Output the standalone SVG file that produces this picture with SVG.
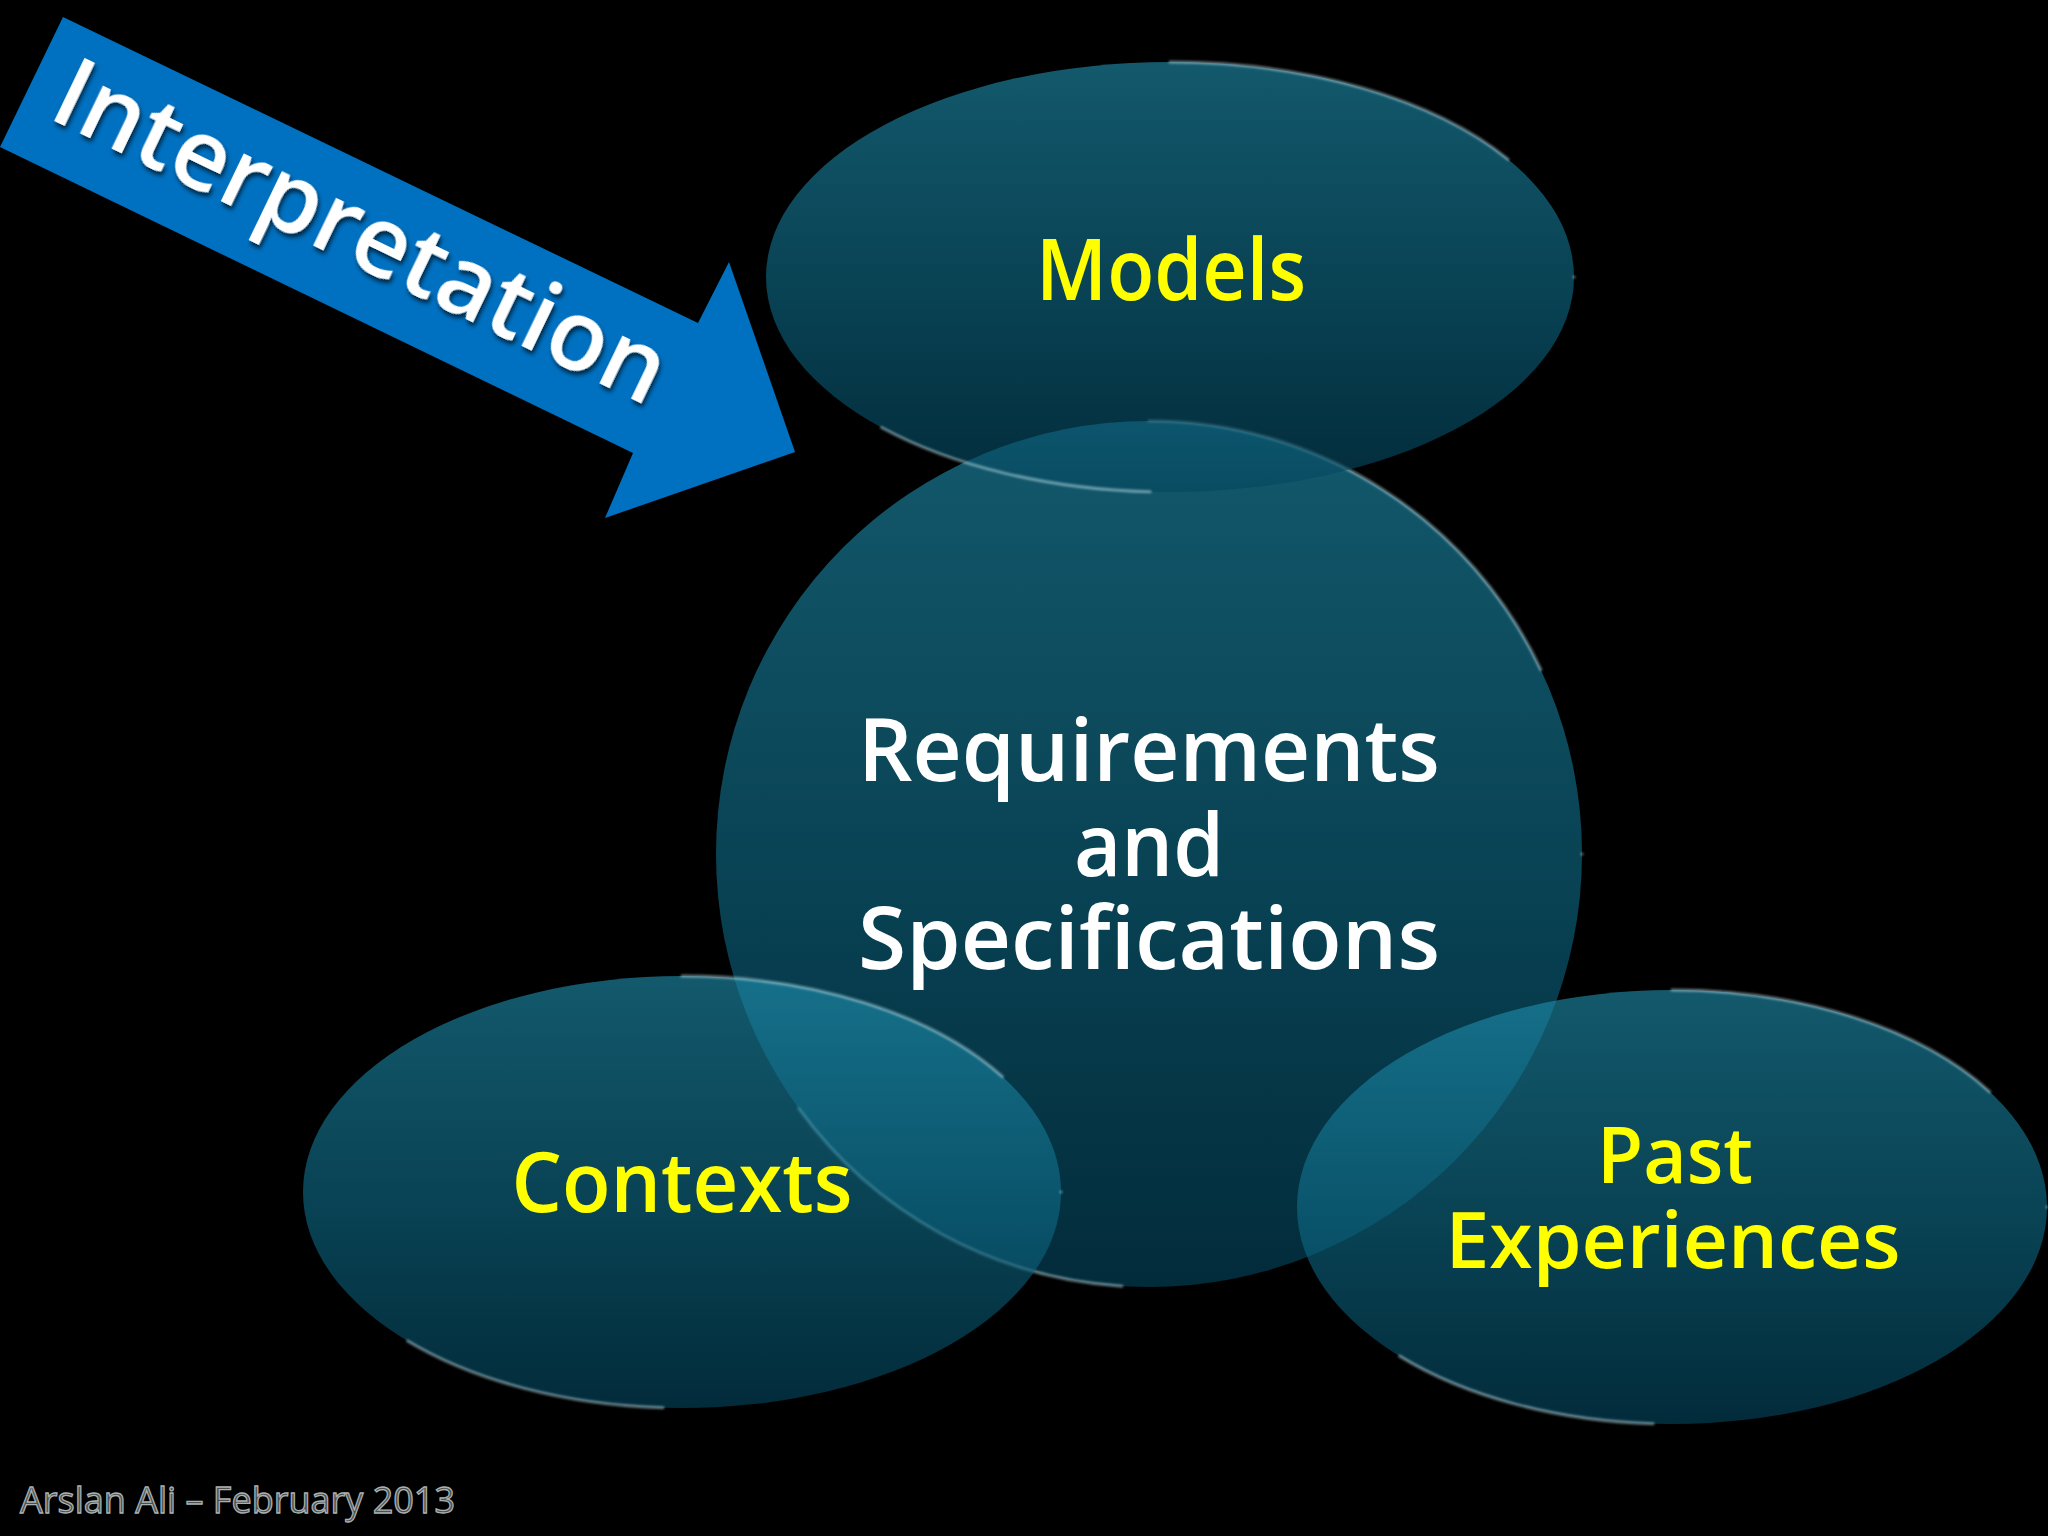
<svg xmlns="http://www.w3.org/2000/svg" width="2048" height="1536" viewBox="0 0 2048 1536">
  <defs>
    <linearGradient id="glass" x1="0" y1="0" x2="0" y2="1">
      <stop offset="0" stop-color="#1f8fae"/>
      <stop offset="0.55" stop-color="#0d6a86"/>
      <stop offset="1" stop-color="#04465e"/>
    </linearGradient>
    <filter id="shadow" x="-10%" y="-10%" width="130%" height="130%">
      <feDropShadow dx="3" dy="3" stdDeviation="2" flood-color="#000" flood-opacity="0.65"/>
    </filter>
    <filter id="soft" x="-5%" y="-5%" width="110%" height="110%">
      <feGaussianBlur stdDeviation="1"/>
    </filter>
  </defs>
  <style>
    .shape { fill: url(#glass); fill-opacity: 0.62; }
    .rim { fill: none; stroke: #c4e6ef; stroke-opacity: 0.5; stroke-width: 3; stroke-linecap: round; stroke-dasharray: 0 26 14 35 18 7; filter: url(#soft); }
    .lbl { font-family: "Open Sans", "Noto Sans", "Liberation Sans", sans-serif; font-weight: 600; text-anchor: middle; }
    .yellow { fill: #ffff00; }
    .white { fill: #ffffff; }
  </style>
  <rect width="2048" height="1536" fill="#000000"/>

  <g id="connectors">
    <g id="interpretation-arrow">
      <polygon points="63,17 698,323 729,262 795,452 605,518 633,453 0,147" fill="#0070c0"/>
      <text class="lbl white" filter="url(#shadow)" style="text-anchor:start" font-size="98" transform="translate(46,117) rotate(25.7)" textLength="668" lengthAdjust="spacingAndGlyphs">Interpretation</text>
    </g>
  </g>

  <g id="node-requirements">
    <circle class="shape" cx="1149" cy="854" r="433"/>
    <circle class="rim" cx="1149" cy="854" r="433" pathLength="100"/>
    <text class="lbl white" font-size="87" x="1149" y="781" textLength="582" lengthAdjust="spacingAndGlyphs">Requirements</text>
    <text class="lbl white" font-size="87" x="1149" y="876" textLength="150" lengthAdjust="spacingAndGlyphs">and</text>
    <text class="lbl white" font-size="87" x="1149" y="969" textLength="582" lengthAdjust="spacingAndGlyphs">Specifications</text>
  </g>

  <g id="node-models">
    <ellipse class="shape" cx="1170" cy="277" rx="404" ry="215"/>
    <ellipse class="rim" cx="1170" cy="277" rx="404" ry="215" pathLength="100"/>
    <text class="lbl yellow" font-size="85" x="1171" y="300" textLength="270" lengthAdjust="spacingAndGlyphs">Models</text>
  </g>

  <g id="node-contexts">
    <ellipse class="shape" cx="682" cy="1192" rx="379" ry="216"/>
    <ellipse class="rim" cx="682" cy="1192" rx="379" ry="216" pathLength="100"/>
    <text class="lbl yellow" font-size="84" x="682" y="1212" textLength="341" lengthAdjust="spacingAndGlyphs">Contexts</text>
  </g>

  <g id="node-past">
    <ellipse class="shape" cx="1672" cy="1207" rx="375" ry="217"/>
    <ellipse class="rim" cx="1672" cy="1207" rx="375" ry="217" pathLength="100"/>
    <text class="lbl yellow" font-size="77" x="1675" y="1183" textLength="156" lengthAdjust="spacingAndGlyphs">Past</text>
    <text class="lbl yellow" font-size="77" x="1673" y="1268" textLength="455" lengthAdjust="spacingAndGlyphs">Experiences</text>
  </g>

  <text id="footer" x="20" y="1513" font-family="'Open Sans', 'DejaVu Sans', sans-serif" font-size="37" fill="#4d4f4f" stroke="#a9b1b1" stroke-width="1.3" textLength="435" lengthAdjust="spacingAndGlyphs">Arslan Ali – February 2013</text>
</svg>
